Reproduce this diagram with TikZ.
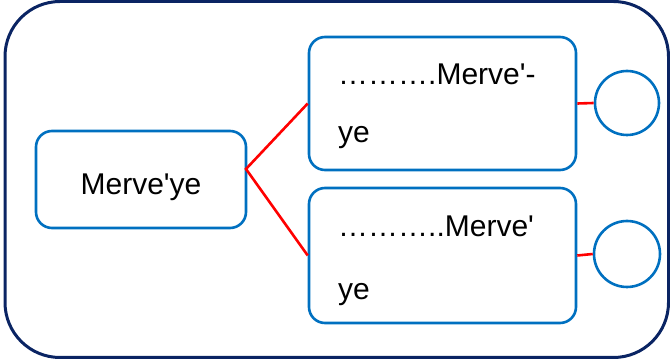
\documentclass[tikz,border=0pt]{standalone}
\usepackage{fontspec}
\setmainfont{Liberation Sans}[Ligatures=TeXOff]
\definecolor{boxblue}{HTML}{0070C0}
\definecolor{navy}{HTML}{0A2463}
\begin{document}
\begin{tikzpicture}[x=1pt,y=-1pt,
  outerframe/.style={draw=navy,line width=3pt,rounded corners=55pt},
  box/.style={draw=boxblue,line width=2.6pt,rounded corners=16pt,rectangle,inner sep=0pt},
  ring/.style={draw=boxblue,line width=2.6pt,circle,inner sep=0pt},
  link/.style={draw=red,line width=2.6pt},
  lbl/.style={font=\fontsize{30}{36}\selectfont,anchor=base west,inner sep=0pt}]
\useasboundingbox (0,0) rectangle (670,363);
\draw[outerframe] (5,1.5) rectangle (668.5,357.5);
\node[box,minimum width=210pt,minimum height=97pt] (src) at (141,179.5) {};
\node[box,minimum width=267pt,minimum height=133pt] (top) at (442.5,103.5) {};
\node[box,minimum width=267pt,minimum height=135pt] (bot) at (442.5,255.5) {};
\node[ring,minimum size=64pt] (c1) at (627,103) {};
\node[ring,minimum size=66pt] (c2) at (627,254) {};
\node[lbl,anchor=base] (srct) at (141,195) {Merve'ye};
\node[lbl] (topt1) at (338,85) {……….Merve'-};
\node[lbl] (topt2) at (338,143) {ye};
\node[lbl] (bott1) at (338,237) {………..Merve'};
\node[lbl] (bott2) at (338,300) {ye};
\coordinate (j) at (246,169);
\draw[link] (top.west) -- (j) -- (bot.west);
\draw[link] (top.east) -- (c1.west);
\draw[link] (bot.east) -- (c2.west);
\end{tikzpicture}
\end{document}
